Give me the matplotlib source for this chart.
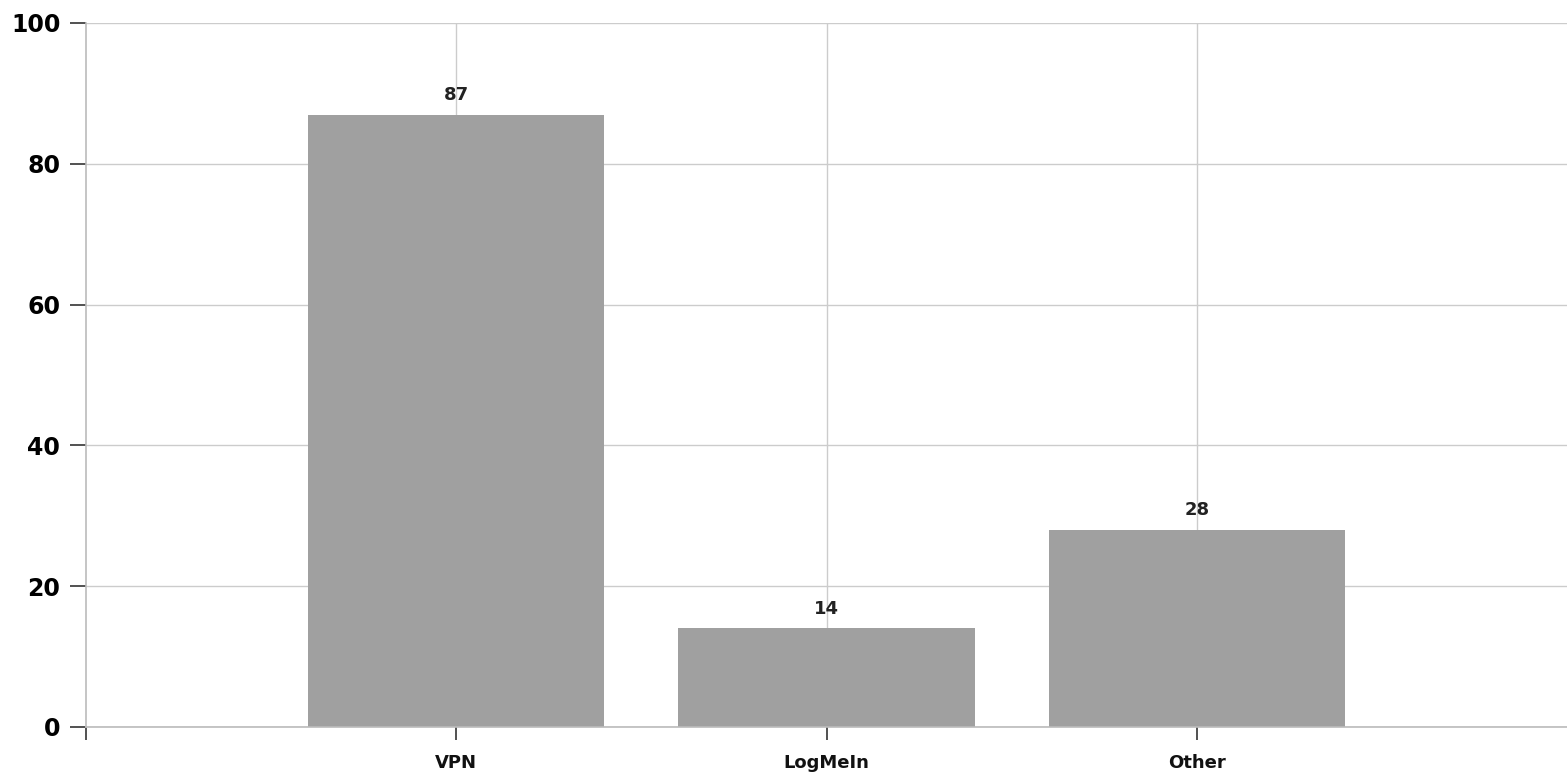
import numpy as np
import matplotlib.pyplot as plt

plt.rcParams['font.family'] = ['DejaVu Sans']

categories = ['VPN', 'LogMeIn', 'Other']
values = [87, 14, 28]
yticks = [0, 20, 40, 60, 80, 100]

fig = plt.figure(figsize=(15.67, 7.76), dpi=100)
ax = fig.add_axes([86/1567, 1-727/776, 1-86/1567, (727-23)/776])

x = np.arange(1, len(categories)+1)
bars = ax.bar(x, values, width=0.8, color='#a0a0a0', zorder=2)
for xi, v in zip(x, values):
    ax.text(xi, v+1.5, str(v), ha='center', va='bottom', fontsize=13, fontweight='bold', color='#222222')

ax.set_xlim(0, len(categories)+1)
ax.set_ylim(0, 100)
ax.set_yticks(yticks)
ax.set_yticklabels([str(t) for t in yticks], fontweight='bold')
ax.set_xticks(np.concatenate([[0], x]))
ax.set_xticklabels([''] + categories, fontsize=13, fontweight='bold', color='#111111')
ax.tick_params(axis='y', labelsize=17, length=11.5, width=1.2, color='#333333', pad=7)
ax.tick_params(axis='x', length=9.5, width=1.2, color='#333333', pad=10)
ax.grid(True, color='#cccccc', lw=1, zorder=0)
ax.xaxis.get_gridlines()[0].set_visible(False)
for s in ['top', 'right']:
    ax.spines[s].set_visible(False)
for s in ['left', 'bottom']:
    ax.spines[s].set_color('#bbbbbb')
    ax.spines[s].set_linewidth(1.2)

fig.savefig('out.png', dpi=100)
